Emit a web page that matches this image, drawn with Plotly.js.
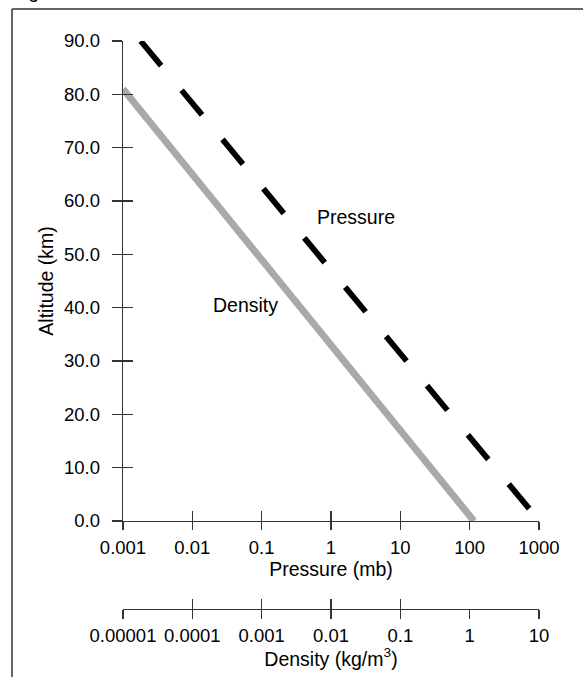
<!DOCTYPE html>
<html>
<head>
<meta charset="utf-8">
<script src="https://cdn.plot.ly/plotly-3.0.1.min.js"></script>
<style>html,body{margin:0;padding:0;background:#fff;}#chart{width:583px;height:677px;}</style>
</head>
<body>
<div id="chart"></div>
<script>
// Data
const altitudeKm = [90, 0];
const pressureMb = [0.0018, 1013];
const densityAlt = [81, 0];
const densityKgM3 = [0.00001, 1.15];

const pressureTicks = [0.001, 0.01, 0.1, 1, 10, 100, 1000];
const pressureTickText = ['0.001', '0.01', '0.1', '1', '10', '100', '1000'];
const densityTicks = [0.00001, 0.0001, 0.001, 0.01, 0.1, 1, 10];
const densityTickText = ['0.00001', '0.0001', '0.001', '0.01', '0.1', '1', '10'];
const densityInnerTicks = [0.00001, 0.0001, 0.001, 0.01, 0.1, 10];
const altitudeTicks = [0, 10, 20, 30, 40, 50, 60, 70, 80, 90];

const FONT = 'Liberation Sans, Arial, Helvetica, sans-serif';
const AX = '#333333';

const traces = [
  {x: pressureMb, y: altitudeKm, xaxis: 'x3', yaxis: 'y2', mode: 'lines', opacity: 0,
   line: {width: 0.1}, hoverinfo: 'skip', showlegend: false},
  {x: densityKgM3, y: densityAlt, xaxis: 'x4', yaxis: 'y', mode: 'lines', opacity: 0,
   line: {width: 0.1}, hoverinfo: 'skip', showlegend: false},
  {x: densityKgM3, y: densityAlt, xaxis: 'x2', yaxis: 'y', mode: 'lines',
   line: {color: '#a9a9a9', width: 7}, showlegend: false},
  {x: pressureMb, y: altitudeKm, xaxis: 'x', yaxis: 'y', mode: 'lines',
   line: {color: '#000000', width: 5.8, dash: '32px,32px'}, showlegend: false}
];

const common = {showgrid: false, zeroline: false, tickcolor: AX, tickwidth: 1.2,
  linecolor: AX, linewidth: 1.3, tickfont: {family: FONT, size: 18.5, color: '#000'}};

const layout = {
  width: 583, height: 677,
  margin: {l: 123, r: 44, t: 41, b: 68},
  paper_bgcolor: '#fff', plot_bgcolor: 'rgba(0,0,0,0)',
  font: {family: FONT, color: '#000'},
  showlegend: false,
  xaxis: Object.assign({}, common, {
    type: 'log', range: [-3, 3], anchor: 'y', layer: 'below traces',
    tickmode: 'array', tickvals: pressureTicks, ticktext: pressureTickText,
    ticks: 'outside', ticklen: 8, showline: true, ticklabelstandoff: 2,
    title: {text: 'Pressure (mb)', font: {family: FONT, size: 19.5, color: '#000'}, standoff: 1}
  }),
  xaxis3: Object.assign({}, common, {
    type: 'log', range: [-3, 3], anchor: 'y', overlaying: 'x', layer: 'below traces',
    tickmode: 'array', tickvals: pressureTicks, ticks: 'inside', ticklen: 10,
    showline: false, showticklabels: false
  }),
  xaxis2: Object.assign({}, common, {
    type: 'log', range: [-5, 1], anchor: 'free', position: 0, overlaying: 'x', side: 'bottom',
    tickmode: 'array', tickvals: densityTicks, ticktext: densityTickText,
    ticks: 'outside', ticklen: 9, showline: true, ticklabelstandoff: 0,
    title: {text: 'Density (kg/m<sup>3</sup>)', font: {family: FONT, size: 19.5, color: '#000'}, standoff: 0}
  }),
  xaxis4: Object.assign({}, common, {
    type: 'log', range: [-5, 1], anchor: 'free', position: 0, overlaying: 'x', side: 'bottom',
    tickmode: 'array', tickvals: densityInnerTicks, ticks: 'inside', ticklen: 10,
    showline: false, showticklabels: false
  }),
  yaxis: Object.assign({}, common, {
    range: [0, 90], domain: [0.155, 1], anchor: 'x',
    tickmode: 'array', tickvals: altitudeTicks, tickformat: '.1f',
    ticks: 'outside', ticklen: 10, showline: true, ticklabelstandoff: 8,
    title: {text: 'Altitude (km)', font: {family: FONT, size: 19.5, color: '#000'}, standoff: 5}
  }),
  yaxis2: Object.assign({}, common, {
    range: [0, 90], domain: [0.155, 1], anchor: 'x', overlaying: 'y', side: 'left',
    tickmode: 'array', tickvals: altitudeTicks, ticks: 'inside', ticklen: 10,
    showline: false, showticklabels: false
  }),
  annotations: [
    {text: 'Pressure', xref: 'x', yref: 'y', x: 0.36, y: 57, showarrow: false,
     font: {family: FONT, size: 19.5, color: '#000'}},
    {text: 'Density', xref: 'x', yref: 'y', x: -1.24, y: 40.5, showarrow: false,
     font: {family: FONT, size: 19.5, color: '#000'}},
    {text: 'Fig', xref: 'paper', yref: 'paper', x: -0.272, y: 1.0651, xanchor: 'left', yanchor: 'bottom',
     showarrow: false, font: {family: FONT, size: 19.5, color: '#000'}}
  ],
  shapes: [
    {type: 'line', xref: 'paper', yref: 'paper', x0: -0.2668, x1: 1.106, y0: 1.0563, y1: 1.0563,
     line: {color: AX, width: 1.5}},
    {type: 'line', xref: 'paper', yref: 'paper', x0: -0.2668, x1: -0.2668, y0: 1.0563, y1: -0.125,
     line: {color: AX, width: 1.5}}
  ]
};

Plotly.newPlot('chart', traces, layout, {staticPlot: true, displayModeBar: false});
</script>
</body>
</html>
